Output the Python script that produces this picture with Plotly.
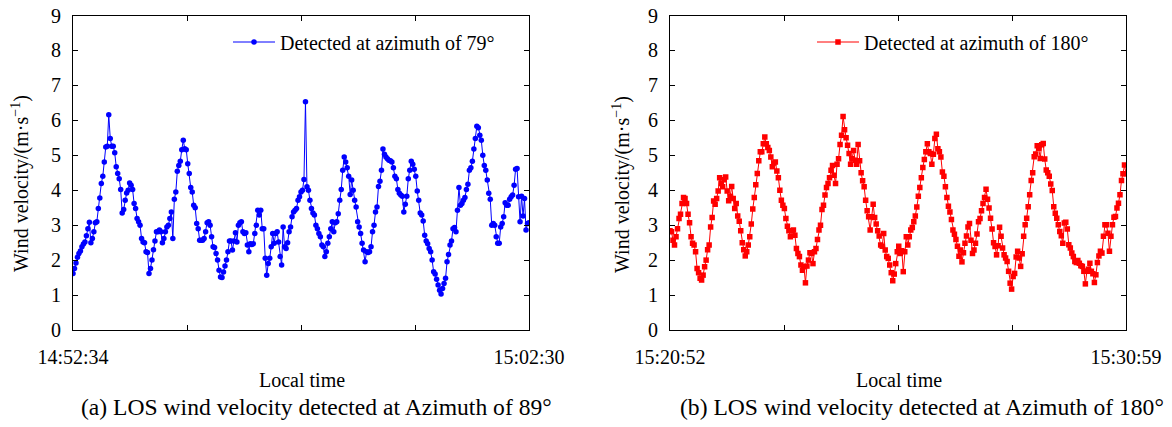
import numpy as np
import plotly.graph_objects as go

# ---------------- data ----------------
left_start, left_end = "14:52:34", "15:02:30"
right_start, right_end = "15:20:52", "15:30:59"
left_name = "Detected at azimuth of 79°"
right_name = "Detected at azimuth of 180°"
left_caption = "(a) LOS wind velocity detected at Azimuth of 89°"
right_caption = "(b) LOS wind velocity detected at Azimuth of 180°"
y_title = "Wind velocity/(m·s<sup>−1</sup>)"
x_title = "Local time"
y_ticks = [0, 1, 2, 3, 4, 5, 6, 7, 8, 9]

left_vel = [
    1.62, 1.76, 1.92, 2.08, 2.19, 2.26, 2.38, 2.46, 2.52, 2.70, 2.90, 3.08, 2.50, 2.62, 2.81, 3.07, 3.10, 3.48, 3.78, 4.19,
    4.40, 4.81, 5.24, 5.26, 6.16, 5.48, 5.26, 5.26, 5.07, 4.67, 4.48, 4.33, 4.02, 3.35, 3.45, 3.71, 3.92, 4.00, 4.21, 4.14,
    4.02, 3.62, 3.48, 3.19, 3.10, 3.00, 2.62, 2.52, 2.50, 2.24, 2.22, 1.62, 1.76, 2.00, 2.30, 2.55, 2.81, 2.81, 2.86, 2.81,
    2.50, 2.62, 2.81, 2.95, 3.00, 3.19, 3.38, 2.62, 3.74, 3.95, 4.54, 4.71, 4.83, 5.16, 5.43, 5.19, 5.16, 4.76, 4.48, 4.08,
    3.95, 3.57, 3.50, 3.05, 2.90, 2.57, 2.57, 2.57, 2.62, 2.81, 3.07, 3.10, 3.00, 2.67, 2.38, 2.36, 2.19, 2.00, 1.71,
    1.52, 1.50, 1.66, 1.83, 2.00, 2.24, 2.55, 2.55, 2.29, 2.55, 2.78, 2.52, 3.00, 3.07, 3.10, 2.81, 2.76, 2.78, 2.43, 2.24,
    2.47, 2.45, 2.47, 2.76, 3.00, 3.43, 3.29, 3.43, 2.90, 2.90, 2.05, 1.57, 1.90, 2.05, 2.38, 2.76, 2.48, 2.76, 2.81, 2.52,
    2.10, 1.86, 2.95, 2.38, 2.33, 2.50, 2.81, 2.95, 3.24, 3.38, 3.43, 3.48, 3.71, 3.81, 3.95, 4.00, 4.31, 6.53, 4.10, 4.00,
    3.71, 3.48, 3.35, 3.29, 3.00, 2.90, 2.76, 2.67, 2.43, 2.38, 2.10, 2.24, 2.48, 2.67, 2.90, 3.10, 2.81, 3.07, 3.10, 3.33,
    3.71, 4.02, 4.57, 4.95, 4.81, 4.64, 4.40, 3.88, 4.29, 4.00, 3.71, 3.52, 3.10, 2.95, 2.76, 2.48, 2.29, 1.95,
    2.24, 2.22, 2.24, 2.38, 2.81, 3.00, 3.38, 3.52, 4.11, 4.26, 4.57, 5.18, 5.03, 4.95, 4.90, 4.86, 4.84, 4.81, 4.64, 4.40,
    4.33, 4.02, 3.91, 3.86, 3.83, 3.38, 3.60, 3.83, 4.33, 4.57, 4.83, 4.74, 4.60, 4.40, 3.98, 3.71, 3.35, 3.29, 3.12, 2.71,
    2.55, 2.47, 2.33, 2.24, 2.00, 1.67, 1.60, 1.45, 1.29, 1.14, 1.03, 1.19, 1.33, 1.48, 1.95, 2.16, 2.43, 2.55, 2.90, 2.93,
    2.81, 3.43, 4.08, 3.57, 3.62, 3.71, 3.79, 4.02, 4.17, 4.57, 4.64, 4.83, 5.18, 5.48, 5.83, 5.79, 5.57, 5.43, 5.00, 4.71,
    4.57, 4.29, 3.91, 3.74, 3.00, 3.05, 3.00, 2.67, 2.48, 2.48, 2.95, 3.05, 3.24, 3.64, 3.57, 3.57, 3.74, 3.81, 3.86, 4.14,
    4.60, 4.62, 3.81, 3.10, 3.83, 3.26, 3.76, 2.86, 3.05, 3.07,
]

right_vel = [
    2.84, 2.81, 2.57, 2.43, 2.67, 2.90, 3.19, 3.31, 3.62, 3.79, 3.76, 3.62, 3.31, 3.07, 2.67, 2.48, 2.43, 2.24, 1.76, 1.64,
    1.48, 1.43, 1.57, 1.81, 2.00, 2.30, 2.43, 2.95, 3.22, 3.69, 3.60, 3.76, 3.98, 4.36, 4.19, 4.10, 4.30, 4.38, 3.98, 3.70,
    3.83, 4.11, 3.76, 3.48, 3.62, 3.26, 3.11, 2.84, 2.50, 2.30, 2.12, 2.24, 2.43, 2.67, 3.03, 3.46, 3.79, 4.16, 4.48, 4.84,
    5.10, 5.10, 5.33, 5.52, 5.33, 5.22, 5.14, 4.95, 4.67, 4.78, 4.81, 4.55, 4.36, 4.00, 3.71, 3.57, 3.48, 3.19, 2.97, 2.84,
    2.67, 2.84, 2.86, 2.71, 2.33, 2.19, 2.10, 1.86, 1.71, 1.81, 1.35, 1.83, 2.00, 2.21, 2.19, 1.90, 2.24, 2.33, 2.59, 2.86,
    3.00, 3.45,
    3.57, 3.86, 4.08, 4.19, 4.36, 4.57, 4.71, 4.43, 4.19, 4.74, 4.90, 5.31, 5.57, 6.11, 5.73, 5.50, 5.29, 5.05, 4.74, 4.90,
    5.14, 4.86, 4.74, 5.31, 4.84, 4.50, 4.27, 4.10, 3.71, 3.41, 3.24, 2.86, 3.24, 3.60, 3.22, 3.03, 2.84, 2.69, 2.43, 2.40,
    2.76, 2.29, 2.10, 2.05, 1.86, 1.64, 1.41, 1.60, 1.90, 2.24, 2.40, 2.19, 2.27, 1.67, 2.24, 2.67, 2.43, 2.67, 2.86, 2.93,
    3.10, 3.26, 3.52, 3.83, 4.08, 4.36, 4.65, 4.88, 5.10, 5.33, 5.10, 5.05, 4.74, 5.03, 5.48, 5.60, 5.19, 5.10, 4.95, 4.52,
    4.40, 4.10, 3.79, 3.54, 3.38, 3.16, 2.86, 2.74, 2.59, 2.40, 2.11, 2.29, 1.95, 2.21, 2.48, 2.69, 2.95, 3.05, 2.57, 2.19,
    2.29,
    2.48, 2.75, 3.10, 3.19, 3.41, 3.62, 3.79, 4.03, 3.74, 3.49, 3.20, 2.89, 2.50, 2.39, 2.15, 2.41, 2.94, 2.68, 2.35, 2.15,
    2.06, 1.96, 1.68, 1.34, 1.17, 1.53, 1.62, 2.09, 2.25, 2.06, 1.82, 2.18, 2.68, 3.01, 3.20, 3.53, 3.87, 4.28, 4.50, 4.96,
    5.04, 5.27, 5.20, 4.91, 5.30, 5.34, 4.89, 4.58, 4.50, 4.40, 4.18, 3.99, 3.53, 3.34, 3.20, 3.01, 2.82, 2.70, 2.48, 3.06,
    3.08, 2.89, 2.44, 2.35, 2.20, 2.10, 1.96, 1.93, 1.99, 1.91, 1.84, 1.82, 1.68, 1.32, 1.68, 1.74, 1.91, 1.68, 1.61, 1.36,
    1.58, 1.93, 2.12, 2.25, 2.20, 2.68, 3.01, 3.01, 2.77, 2.25, 2.68, 3.01, 3.23, 3.25, 3.49, 3.63, 3.87, 4.28, 4.47, 4.72,
    4.47,
]


def secs(s):
    h, m, sec = map(int, s.split(":"))
    return h * 3600 + m * 60 + sec


dur_l = secs(left_end) - secs(left_start)
dur_r = secs(right_end) - secs(right_start)
t_l = np.linspace(0, dur_l, len(left_vel))
t_r = np.linspace(0, dur_r, len(right_vel))

FONT = "Liberation Serif"
W, H = 1172, 427

# plot frames (pixels)
L_X0, L_X1 = 73, 529
R_X0, R_X1 = 670, 1126
Y_TOP, Y_BOT = 15.5, 330


def px(x):
    return x / W


def py(y):
    return 1 - y / H


fig = go.Figure()
fig.add_trace(go.Scatter(
    x=t_l, y=left_vel, mode="lines+markers", name=left_name,
    line=dict(color="#0000FF", width=1),
    marker=dict(color="#0000FF", size=5.5, symbol="circle"),
    xaxis="x", yaxis="y", legend="legend",
))
fig.add_trace(go.Scatter(
    x=t_r, y=right_vel, mode="lines+markers", name=right_name,
    line=dict(color="#FF0000", width=1),
    marker=dict(color="#FF0000", size=5.5, symbol="square"),
    xaxis="x2", yaxis="y2", legend="legend2",
))

axis_common = dict(
    showline=True, linecolor="black", linewidth=1, mirror="ticks",
    ticks="inside", ticklen=5, tickcolor="black", tickwidth=1,
    showgrid=False, zeroline=False, automargin=False,
    tickfont=dict(family=FONT, size=20, color="black"),
)


def xaxis_for(dur, start, end, dom, anchor):
    edges = np.linspace(0, dur, 5)
    return dict(domain=dom, anchor=anchor, range=[0, dur],
                tickmode="array", tickvals=[edges[0], edges[-1]], ticktext=[start, end],
                minor=dict(tickmode="array", tickvals=list(edges[1:-1]), ticks="inside",
                           ticklen=5, tickcolor="black", tickwidth=1, showgrid=False),
                ticklabelstandoff=9, **axis_common)


fig.update_layout(
    template="none",
    width=W, height=H,
    margin=dict(l=0, r=0, t=0, b=0, autoexpand=False),
    paper_bgcolor="white", plot_bgcolor="white",
    font=dict(family=FONT, size=20, color="black"),
    xaxis=xaxis_for(dur_l, left_start, left_end, [px(L_X0), px(L_X1)], "y"),
    yaxis=dict(domain=[py(Y_BOT), py(Y_TOP)], anchor="x", range=[0, 9],
               tickvals=y_ticks, ticklabelstandoff=7, **axis_common),
    xaxis2=xaxis_for(dur_r, right_start, right_end, [px(R_X0), px(R_X1)], "y2"),
    yaxis2=dict(domain=[py(Y_BOT), py(Y_TOP)], anchor="x2", range=[0, 9],
                tickvals=y_ticks, ticklabelstandoff=7, **axis_common),
    legend=dict(x=px(228), y=py(42), xanchor="left", yanchor="middle",
                bgcolor="rgba(0,0,0,0)", borderwidth=0, itemwidth=42,
                font=dict(family=FONT, size=20, color="black")),
    legend2=dict(x=px(812), y=py(42), xanchor="left", yanchor="middle",
                 bgcolor="rgba(0,0,0,0)", borderwidth=0, itemwidth=42,
                 font=dict(family=FONT, size=20, color="black")),
    showlegend=True,
)

ann = []
for cx, cap, capx, ytx in [((L_X0 + L_X1) / 2, left_caption, 316, 20),
                           ((R_X0 + R_X1) / 2, right_caption, 922, 621)]:
    ann.append(dict(text=x_title, x=px(cx + 1), y=py(380), xref="paper", yref="paper",
                    xanchor="center", yanchor="middle", showarrow=False,
                    font=dict(family=FONT, size=20, color="black")))
    ann.append(dict(text=cap, x=px(capx), y=py(407), xref="paper", yref="paper",
                    xanchor="center", yanchor="middle", showarrow=False,
                    font=dict(family=FONT, size=23.6, color="black")))
    ann.append(dict(text=y_title, x=px(ytx), y=py(184), xref="paper", yref="paper",
                    xanchor="center", yanchor="middle", showarrow=False, textangle=-90,
                    font=dict(family=FONT, size=20, color="black")))
fig.update_layout(annotations=ann)

fig.write_html("out.html")
